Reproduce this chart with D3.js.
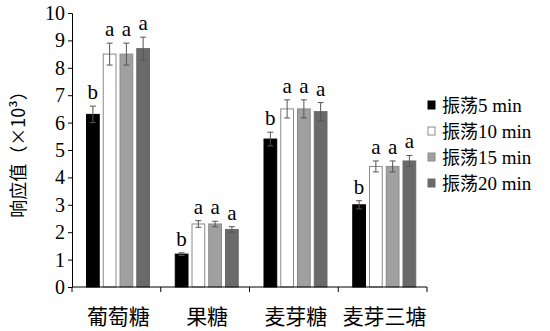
<!DOCTYPE html>
<html><head><meta charset="utf-8">
<script src="https://cdn.jsdelivr.net/npm/d3@7"></script>
<style>body{margin:0;background:#fff}</style>
</head><body>
<svg id="c" width="550" height="331"></svg>
<script>
const categories = ["葡萄糖", "果糖", "麦芽糖", "麦芽三塘"];
const seriesNames = ["振荡5 min", "振荡10 min", "振荡15 min", "振荡20 min"];
const values = [
  [6.3, 1.2, 5.4, 3.0],
  [8.5, 2.3, 6.5, 4.4],
  [8.5, 2.3, 6.5, 4.4],
  [8.7, 2.1, 6.4, 4.6]
];
const errors = [
  [0.3, 0.05, 0.25, 0.15],
  [0.4, 0.12, 0.33, 0.2],
  [0.4, 0.1, 0.33, 0.2],
  [0.42, 0.1, 0.33, 0.2]
];
const letters = [
  ["b", "b", "b", "b"],
  ["a", "a", "a", "a"],
  ["a", "a", "a", "a"],
  ["a", "a", "a", "a"]
];
const yTicks = [0,1,2,3,4,5,6,7,8,9,10];
const fills = ["#000000", "#ffffff", "#a0a0a0", "#6a6a6a"];
const strokes = ["#000000", "#8a8a8a", "#8a8a8a", "#6a6a6a"];

const svg = d3.select("#c");
const x0 = d3.scaleBand().domain(categories).range([72, 427]).paddingInner(0).paddingOuter(0);
const x1 = d3.scaleBand().domain(d3.range(seriesNames.length)).range([14, 78]).paddingInner(0.18).paddingOuter(0);
const y = d3.scaleLinear().domain([0, 10]).range([287, 13]);

const serif = "'Liberation Serif','Times New Roman',serif";
const cjk = "'Noto Sans CJK SC','Noto Sans CJK JP',sans-serif";

// y axis
const ya = svg.append("g").attr("transform","translate(72,0)")
  .call(d3.axisLeft(y).tickValues(yTicks).tickSize(4).tickPadding(3).tickFormat(d3.format("d")));
ya.select(".domain").attr("stroke","#000");
ya.selectAll("text").attr("font-family", serif).attr("font-size", 20).attr("fill","#000");

// bars
categories.forEach((c, ci) => {
  seriesNames.forEach((s, si) => {
    const v = values[si][ci], e = errors[si][ci];
    const bx = x0(c) + x1(si), bw = x1.bandwidth();
    svg.append("rect").attr("x", bx+0.5).attr("y", y(v)).attr("width", bw-1).attr("height", y(0)-y(v))
      .attr("fill", fills[si]).attr("stroke", strokes[si]).attr("stroke-width", 1);
    const cx = bx + bw/2;
    const g = svg.append("g").attr("stroke","#555").attr("stroke-width",1);
    g.append("line").attr("x1",cx).attr("x2",cx).attr("y1",y(v+e)).attr("y2",y(v-e));
    g.append("line").attr("x1",cx-3).attr("x2",cx+3).attr("y1",y(v+e)).attr("y2",y(v+e));
    g.append("line").attr("x1",cx-3).attr("x2",cx+3).attr("y1",y(v-e)).attr("y2",y(v-e));
    svg.append("text").attr("x", cx).attr("y", y(v+e)-7).attr("text-anchor","middle")
      .attr("font-family", serif).attr("font-size", 21).text(letters[si][ci]);
  });
});

// x axis
const xa = svg.append("g").attr("transform","translate(0,287)");
xa.append("line").attr("x1",72).attr("x2",427).attr("stroke","#000");
const bounds = categories.map(c => x0(c)).concat([x0.range()[1]]);
xa.selectAll("line.t").data(bounds).join("line").attr("class","t")
  .attr("x1",d=>d).attr("x2",d=>d).attr("y1",0).attr("y2",5).attr("stroke","#000");
xa.selectAll("text").data(categories).join("text")
  .attr("x", d => x0(d) + x0.bandwidth()/2 + 2).attr("y", 37).attr("text-anchor","middle")
  .attr("font-family", cjk).attr("font-size", 21).text(d => d);

// y title
svg.append("text").attr("transform","translate(25,150) rotate(-90)").attr("text-anchor","middle")
  .attr("font-family", cjk).attr("font-size", 18)
  .text("响应值（×10³）");

// legend
const lg = svg.append("g");
seriesNames.forEach((s, i) => {
  const yy = 106 + i*26;
  lg.append("rect").attr("x", 428).attr("y", yy-5).attr("width", 7).attr("height", 8)
    .attr("fill", fills[i]).attr("stroke", strokes[i]);
  lg.append("text").attr("x", 442).attr("y", yy+6).attr("font-size", 18)
    .selectAll("tspan").data([s.slice(0,2), s.slice(2)]).join("tspan")
    .attr("font-family", (d,j) => j===0 ? cjk : serif).attr("font-size", (d,j)=> j===0?18:19).text(d=>d);
});
</script>
</body></html>
